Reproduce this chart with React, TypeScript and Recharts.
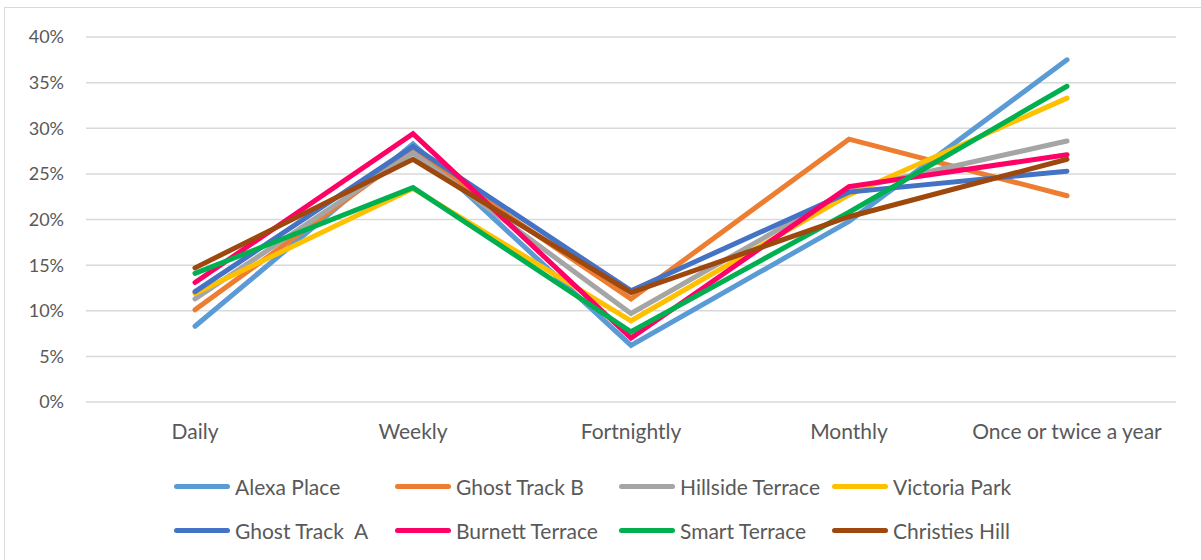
import React from 'react';
import { LineChart, Line, XAxis, YAxis, CartesianGrid } from 'recharts';

const categories = ['Daily', 'Weekly', 'Fortnightly', 'Monthly', 'Once or twice a year'];

const alexaPlace = [8.3, 28.3, 6.2, 19.8, 37.5];
const ghostTrackB = [10.1, 27.5, 11.3, 28.8, 22.6];
const hillsideTerrace = [11.3, 27.3, 9.7, 23.3, 28.6];
const victoriaPark = [11.9, 23.4, 8.9, 22.7, 33.3];
const ghostTrackA = [12.1, 28.0, 12.2, 23.0, 25.3];
const burnettTerrace = [13.1, 29.4, 7.0, 23.6, 27.1];
const smartTerrace = [14.1, 23.5, 7.7, 20.8, 34.6];
const christiesHill = [14.7, 26.6, 12.0, 20.3, 26.6];

const yTicks = [0, 5, 10, 15, 20, 25, 30, 35, 40];

const series = [
  { key: 'alexa', name: 'Alexa Place', values: alexaPlace, color: '#5B9BD5' },
  { key: 'ghostB', name: 'Ghost Track B', values: ghostTrackB, color: '#ED7D31' },
  { key: 'hillside', name: 'Hillside Terrace', values: hillsideTerrace, color: '#A5A5A5' },
  { key: 'victoria', name: 'Victoria Park', values: victoriaPark, color: '#FFC000' },
  { key: 'ghostA', name: 'Ghost Track  A', values: ghostTrackA, color: '#4472C4' },
  { key: 'burnett', name: 'Burnett Terrace', values: burnettTerrace, color: '#FF0066' },
  { key: 'smart', name: 'Smart Terrace', values: smartTerrace, color: '#00B050' },
  { key: 'christies', name: 'Christies Hill', values: christiesHill, color: '#9E480E' },
];

const data = categories.map((c, i) => {
  const row: Record<string, string | number> = { category: c };
  series.forEach((s) => {
    row[s.key] = s.values[i];
  });
  return row;
});

const FONT = 'Lato, "DejaVu Sans", sans-serif';
const TEXT = '#595959';
const legendCols = [174, 395, 619, 832];

const App: React.FC = () => {
  return (
    <div style={{ position: 'absolute', left: 0, top: 0, width: 1201, height: 560, overflow: 'hidden', background: '#fff', fontFamily: FONT }}>
      <div
        style={{
          position: 'absolute',
          left: 4,
          top: 7,
          width: 1220,
          height: 580,
          border: '1.5px solid #D9D9D9',
          boxSizing: 'border-box',
        }}
      />
      <LineChart
        width={1201}
        height={560}
        data={data}
        margin={{ top: 37, right: 25, left: 0, bottom: 0 }}
        style={{ position: 'absolute', left: 0, top: 0 }}
      >
        <CartesianGrid vertical={false} stroke="#D9D9D9" strokeWidth={1.5} />
        <XAxis
          dataKey="category"
          padding={{ left: 109, right: 109 }}
          axisLine={false}
          tickLine={false}
          tickSize={0}
          tickMargin={22}
          tick={{ fill: TEXT, fontSize: 21, fontFamily: FONT }}
          interval={0}
          height={158}
        />
        <YAxis
          width={86}
          domain={[0, 40]}
          ticks={yTicks}
          interval={0}
          tickFormatter={(v) => `${v}%`}
          axisLine={false}
          tickLine={false}
          tickSize={0}
          tickMargin={22}
          tick={{ fill: TEXT, fontSize: 18, fontFamily: FONT }}
        />
        {series.map((s) => (
          <Line
            key={s.key}
            dataKey={s.key}
            name={s.name}
            stroke={s.color}
            strokeWidth={5}
            strokeLinecap="round"
            strokeLinejoin="miter"
            dot={false}
            activeDot={false}
            isAnimationActive={false}
          />
        ))}
      </LineChart>
      {series.map((s, i) => {
        const row = Math.floor(i / 4);
        const col = i % 4;
        return (
          <div
            key={s.key}
            style={{
              position: 'absolute',
              left: legendCols[col],
              top: 486 + row * 44 - 13,
              height: 26,
              display: 'flex',
              alignItems: 'center',
              whiteSpace: 'pre',
            }}
          >
            <div style={{ width: 56, height: 5, borderRadius: 3, background: s.color, marginRight: 5 }} />
            <span style={{ color: TEXT, fontSize: 21, fontFamily: FONT }}>{s.name}</span>
          </div>
        );
      })}
    </div>
  );
};

export default App;
